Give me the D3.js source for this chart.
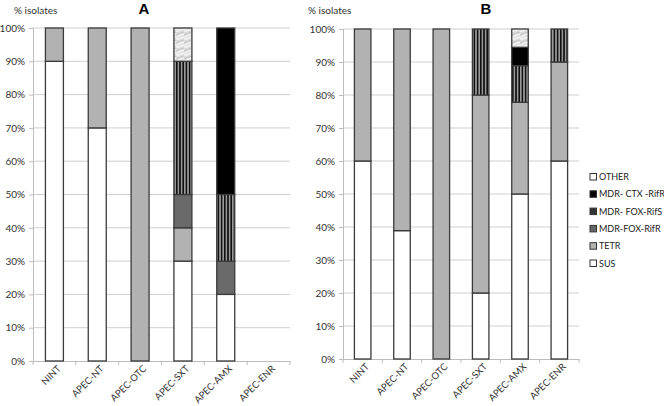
<!DOCTYPE html>
<html>
<head>
<meta charset="utf-8">
<script src="https://cdn.jsdelivr.net/npm/d3@7"></script>
<style>
  body { margin: 0; background: #fff; }
  text { font-family: Lato, "Noto Sans", sans-serif; }
</style>
</head>
<body>
<svg width="664" height="406"></svg>
<script>
// categories and series (percent of isolates)
var categories = ["NINT", "APEC-NT", "APEC-OTC", "APEC-SXT", "APEC-AMX", "APEC-ENR"];
var seriesKeys = ["SUS", "TETR", "FOXR", "FOXS", "CTX", "OTHER"];
var legendLabels = ["OTHER", "MDR- CTX -RifR", "MDR- FOX-RifS", "MDR-FOX-RifR", "TETR", "SUS"];
var yTicks = [0, 10, 20, 30, 40, 50, 60, 70, 80, 90, 100];

// panel A
var susA   = [90, 70, 0, 30, 20, 0];
var tetrA  = [10, 30, 100, 10, 0, 0];
var foxRA  = [0, 0, 0, 10, 10, 0];
var foxSA  = [0, 0, 0, 40, 20, 0];
var ctxA   = [0, 0, 0, 0, 50, 0];
var otherA = [0, 0, 0, 10, 0, 0];

// panel B
var susB   = [60, 38.9, 0, 20, 50, 60];
var tetrB  = [40, 61.1, 100, 60, 27.8, 30];
var foxRB  = [0, 0, 0, 0, 0, 0];
var foxSB  = [0, 0, 0, 20, 11.1, 10];
var ctxB   = [0, 0, 0, 0, 5.55, 0];
var otherB = [0, 0, 0, 0, 5.55, 0];

function rows(cols) {
  return categories.map(function(c, i) {
    var r = { cat: c };
    seriesKeys.forEach(function(k, j) { r[k] = cols[j][i]; });
    return r;
  });
}

var svg = d3.select("svg");
var defs = svg.append("defs");

// vertical stripes for MDR-FOX-RifS
var ps = defs.append("pattern").attr("id", "stripes")
  .attr("patternUnits", "userSpaceOnUse").attr("width", 3.2).attr("height", 10);
ps.append("rect").attr("width", 3.2).attr("height", 10).attr("fill", "#9a9a9a");
ps.append("rect").attr("x", 0).attr("width", 1.6).attr("height", 10).attr("fill", "#111");

// marbled light texture for OTHER
var po = defs.append("pattern").attr("id", "marble")
  .attr("patternUnits", "userSpaceOnUse").attr("width", 8).attr("height", 8);
po.append("rect").attr("width", 8).attr("height", 8).attr("fill", "#dcdcdc");
po.append("path").attr("d", "M0,6 Q3,3 8,2 M0,8 Q4,6 8,5")
  .attr("stroke", "#f4f4f4").attr("stroke-width", 1.3).attr("fill", "none");
po.append("path").attr("d", "M0,3 Q4,1 8,0")
  .attr("stroke", "#bdbdbd").attr("stroke-width", 0.8).attr("fill", "none");

var fills = {
  SUS: "#ffffff", TETR: "#b2b2b2", FOXR: "#6a6a6a",
  FOXS: "url(#stripes)", CTX: "#000000", OTHER: "url(#marble)"
};
var legendFill = {
  "OTHER": "#ffffff", "MDR- CTX -RifR": "#000", "MDR- FOX-RifS": "#333",
  "MDR-FOX-RifR": "#666", "TETR": "#b2b2b2", "SUS": "#fff"
};

function drawPanel(data, x0, x1, yTop, yBot, title, titleX, labelX) {
  var g = svg.append("g");
  var x = d3.scaleBand().domain(categories).range([x0, x1]).paddingInner(0).paddingOuter(0);
  var y = d3.scaleLinear().domain([0, 100]).range([yBot, yTop]);
  var bw = x.bandwidth() * 0.42;

  // gridlines
  g.selectAll(".grid").data(yTicks.filter(function(t) { return t > 0; }))
    .enter().append("line")
    .attr("x1", x0).attr("x2", x1)
    .attr("y1", function(d) { return y(d); }).attr("y2", function(d) { return y(d); })
    .attr("stroke", "#cfcfcf").attr("stroke-width", 1);

  // y axis
  var ya = g.append("g").attr("transform", "translate(" + x0 + ",0)")
    .call(d3.axisLeft(y).tickValues(yTicks).tickSize(4).tickPadding(4)
      .tickFormat(function(d) { return d + "%"; }));
  ya.select(".domain").attr("stroke", "#bdbdbd");
  ya.selectAll(".tick line").attr("stroke", "#bdbdbd");
  ya.selectAll("text").attr("fill", "#333").style("font-size", "10px");

  // x axis
  var xa = g.append("g").attr("transform", "translate(0," + yBot + ")")
    .call(d3.axisBottom(x).tickSize(0).tickPadding(8));
  xa.select(".domain").attr("stroke", "#bdbdbd");
  xa.selectAll("text").attr("fill", "#333").style("font-size", "9.5px")
    .attr("text-anchor", "end").attr("dy", "0.3em")
    .attr("transform", "rotate(-45)")
    .attr("dx", "-0.1em");
  // boundary ticks
  g.selectAll(".bt").data(d3.range(categories.length + 1)).enter().append("line")
    .attr("x1", function(i) { return x0 + i * x.step(); })
    .attr("x2", function(i) { return x0 + i * x.step(); })
    .attr("y1", yBot).attr("y2", yBot + 4).attr("stroke", "#bdbdbd");

  var stack = d3.stack().keys(seriesKeys)(data);
  g.selectAll(".layer").data(stack).enter().append("g")
    .selectAll("rect").data(function(s) {
      return s.map(function(d) { return { key: s.key, d: d }; })
        .filter(function(o) { return o.d[1] - o.d[0] > 0; });
    })
    .enter().append("rect")
    .attr("x", function(o) { return x(o.d.data.cat) + (x.bandwidth() - bw) / 2; })
    .attr("width", bw)
    .attr("y", function(o) { return y(o.d[1]); })
    .attr("height", function(o) { return y(o.d[0]) - y(o.d[1]); })
    .attr("fill", function(o) { return fills[o.key]; })
    .attr("stroke", "#3a3a3a").attr("stroke-width", 1.3);

  svg.append("text").attr("x", labelX).attr("y", 14)
    .style("font-size", "10px").attr("fill", "#333").text("% isolates");
  svg.append("text").attr("x", titleX).attr("y", 14).attr("text-anchor", "middle")
    .style("font-size", "15px").style("font-weight", "bold")
    .style("font-family", "Liberation Sans, Arial, sans-serif").text(title);
}

drawPanel(rows([susA, tetrA, foxRA, foxSA, ctxA, otherA]), 33, 290, 28, 361, "A", 144, 14);
drawPanel(rows([susB, tetrB, foxRB, foxSB, ctxB, otherB]), 343, 579, 29, 359, "B", 486, 308);

// legend
var lg = svg.append("g").selectAll("g").data(legendLabels).enter().append("g")
  .attr("transform", function(d, i) { return "translate(590," + (177 + i * 17.3) + ")"; });
lg.append("rect").attr("x", 0).attr("y", -3.5).attr("width", 6.5).attr("height", 6.5)
  .attr("fill", function(d) { return legendFill[d]; })
  .attr("stroke", "#333").attr("stroke-width", 1);
lg.append("text").attr("x", 9).attr("y", 0).attr("dy", "0.35em")
  .style("font-size", "9px").attr("fill", "#222").text(function(d) { return d; });
</script>
</body>
</html>
